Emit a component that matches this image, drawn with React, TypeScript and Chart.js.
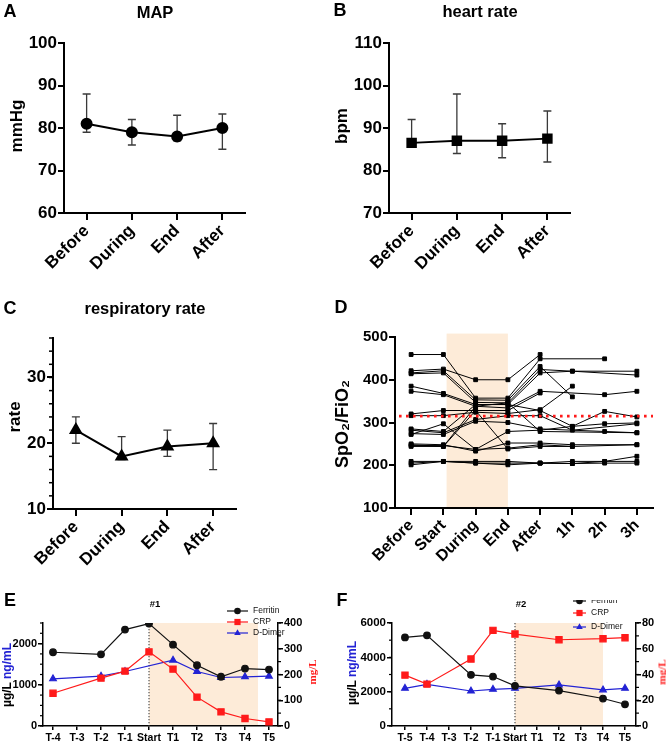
import React, { useEffect, useRef } from "react";
import { Chart, registerables } from "chart.js";
Chart.register(...registerables);

const FONT = "Arial, 'Liberation Sans', Helvetica, sans-serif";

// ---------- Data ----------
const phases = ["Before", "During", "End", "After"];
const mapMean = [81, 79, 78, 80];
const mapLow = [79, 76, 77, 75];
const mapHigh = [88, 82, 83, 83.3];
const hrMean = [86.5, 87, 87, 87.5];
const hrLow = [85.5, 84, 83, 82];
const hrHigh = [92, 98, 91, 94];
const rrMean = [22, 18, 19.5, 20];
const rrLow = [20, 17.5, 18, 16];
const rrHigh = [24, 21, 22, 23];

const spoLabels = ["Before", "Start", "During", "End", "After", "1h", "2h", "3h"];
const spoP01 = [459, 459, 357, 357, 449, null, 449, null];
const spoP02 = [421, 425, 400, 400, 459, null, null, null];
const spoP03 = [416, 421, 353, 352, 431, 360, null, null];
const spoP04 = [414, 416, 347, 346, 424, 420, null, 411];
const spoP05 = [385, 368, 342, 342, 416, 420, null, 420];
const spoP06 = [373, 365, 338, 334, 373, null, 365, 373];
const spoP07 = [320, 328, 328, 328, 369, null, null, null];
const spoP08 = [316, 316, 324, 321, 330, 385, null, null];
const spoP09 = [285, 279, 342, 342, 328, 291, 297, 299];
const spoP10 = [282, 276, 307, 316, 316, 282, null, 297];
const spoP11 = [274, 272, 303, 300, 285, null, 279, 276];
const spoP12 = [272, 297, 237, 279, 282, 291, 326, 313];
const spoP13 = [250, 248, 233, 252, 252, 248, null, 248];
const spoP14 = [246, 246, 237, 240, 248, 244, null, 248];
const spoP15 = [244, 244, 328, 238, 244, 244, null, null];
const spoP16 = [248, 244, 338, 346, 279, null, null, 276];
const spoP17 = [209, 209, 205, 205, 205, 209, 209, 209];
const spoP18 = [205, 209, 205, 201, 205, 204, 209, 221];
const spoP19 = [201, 209, 209, 209, 205, 204, 205, 205];
const spoPatients = [spoP01, spoP02, spoP03, spoP04, spoP05, spoP06, spoP07, spoP08, spoP09, spoP10,
  spoP11, spoP12, spoP13, spoP14, spoP15, spoP16, spoP17, spoP18, spoP19];
const spoThreshold = 315;
const spoShadeFrom = 1.1;
const spoShadeTo = 3;
const spoShadeTop = 508;

const eLabels = ["T-4", "T-3", "T-2", "T-1", "Start", "T1", "T2", "T3", "T4", "T5"];
const eFerritin = [1790, null, 1740, 2340, 2485, 1975, 1475, 1195, 1395, 1370];
const eCRP = [127, null, 186, 213, 288, 221, 112, 55, 29, 16];
const eDDimer = [1145, null, 1210, 1323, null, 1597, 1323, 1177, 1194, 1210];
const eLeftTicks = [0, 1000, 2000];
const eRightTicks = [0, 100, 200, 300, 400];
const eStart = 4;
const eShadeTo = 8.54;

const fLabels = ["T-5", "T-4", "T-3", "T-2", "T-1", "Start", "T1", "T2", "T3", "T4", "T5"];
const fFerritin = [5160, 5280, null, 2980, 2880, 2340, null, 2065, null, 1600, 1265];
const fCRP = [39.5, 32.5, null, 52, 74.3, 71.4, null, 67, null, 67.8, 68.6];
const fDDimer = [2195, 2430, null, 2040, 2135, 2195, null, 2390, null, 2100, 2195];
const fLeftTicks = [0, 2000, 4000, 6000];
const fRightTicks = [0, 20, 40, 60, 80];
const fStart = 5;
const fShadeTo = 9;

const SHADE = "#fdebd8";
const RED = "#ff1a1a";
const BLUE = "#2323d4";

// ---------- helpers ----------
function zeroPad(s: any) {
  s.paddingLeft = 0; s.paddingRight = 0; s.paddingTop = 0; s.paddingBottom = 0;
}

function drawMarker(ctx: CanvasRenderingContext2D, style: string, x: number, y: number, r: number) {
  ctx.beginPath();
  if (style === "circle") ctx.arc(x, y, r, 0, Math.PI * 2);
  else if (style === "rect") { const s = r * Math.SQRT1_2; ctx.rect(x - s, y - s, 2 * s, 2 * s); }
  else { ctx.moveTo(x, y - r); ctx.lineTo(x + r * 0.866, y + r * 0.5); ctx.lineTo(x - r * 0.866, y + r * 0.5); ctx.closePath(); }
  ctx.fill();
}

const errorBars = (low: number[], high: number[]) => ({
  id: "errorBars",
  beforeDatasetsDraw(chart: any) {
    const { ctx } = chart; const ys = chart.scales.y;
    const meta = chart.getDatasetMeta(0);
    ctx.save(); ctx.strokeStyle = "#3a3a3a"; ctx.lineWidth = 1.3;
    meta.data.forEach((pt: any, i: number) => {
      const x = pt.x, y1 = ys.getPixelForValue(low[i]), y2 = ys.getPixelForValue(high[i]);
      ctx.beginPath();
      ctx.moveTo(x, y1); ctx.lineTo(x, y2);
      ctx.moveTo(x - 4, y1); ctx.lineTo(x + 4, y1);
      ctx.moveTo(x - 4, y2); ctx.lineTo(x + 4, y2);
      ctx.stroke();
    });
    ctx.restore();
  },
});

const minorTicks = (specs: { id: string; step: number; len: number; width: number }[]) => ({
  id: "minorTicks",
  afterDraw(chart: any) {
    const { ctx } = chart;
    ctx.save(); ctx.strokeStyle = "#000";
    specs.forEach(({ id, step, len, width }) => {
      const s = chart.scales[id];
      ctx.lineWidth = width;
      const left = s.position === "left";
      const x0 = left ? s.right : s.left;
      for (let v = s.min; v <= s.max + 1e-9; v += step) {
        const y = s.getPixelForValue(v);
        ctx.beginPath(); ctx.moveTo(x0, y); ctx.lineTo(left ? x0 - len : x0 + len, y); ctx.stroke();
      }
    });
    ctx.restore();
  },
});

const shade = (from: number, to: number, topVal: number | null) => ({
  id: "shade",
  beforeDraw(chart: any) {
    const { ctx, chartArea } = chart; const xs = chart.scales.x; const ys = chart.scales.y;
    const x1 = xs.getPixelForValue(from), x2 = xs.getPixelForValue(to);
    const yTop = topVal == null ? chartArea.top : ys.getPixelForValue(topVal);
    ctx.save(); ctx.fillStyle = SHADE; ctx.fillRect(x1, yTop, x2 - x1, chartArea.bottom - yTop); ctx.restore();
  },
});

const hDotted = (value: number) => ({
  id: "hDotted",
  afterDatasetsDraw(chart: any) {
    const { ctx, chartArea } = chart; const y = chart.scales.y.getPixelForValue(value);
    ctx.save(); ctx.strokeStyle = RED; ctx.lineWidth = 2.6; ctx.setLineDash([2.6, 4.4]);
    ctx.beginPath(); ctx.moveTo(chartArea.left + 4, y); ctx.lineTo(chartArea.right, y); ctx.stroke();
    ctx.restore();
  },
});

const vDotted = (value: number) => ({
  id: "vDotted",
  beforeDatasetsDraw(chart: any) {
    const { ctx, chartArea } = chart; const x = chart.scales.x.getPixelForValue(value);
    ctx.save(); ctx.strokeStyle = "#444"; ctx.lineWidth = 1.1; ctx.setLineDash([1.3, 1.7]);
    ctx.beginPath(); ctx.moveTo(x, chartArea.top); ctx.lineTo(x, chartArea.bottom); ctx.stroke();
    ctx.restore();
  },
});

type LegItem = { label: string; color: string; style: string; r: number };
const legend = (items: LegItem[], x0: number, x1: number, xt: number, ys: number[], size: number) => ({
  id: "customLegend",
  afterDraw(chart: any) {
    const { ctx } = chart;
    ctx.save();
    items.forEach((it, i) => {
      const y = ys[i];
      ctx.strokeStyle = it.color; ctx.fillStyle = it.color; ctx.lineWidth = 1.2;
      ctx.beginPath(); ctx.moveTo(x0, y); ctx.lineTo(x1, y); ctx.stroke();
      drawMarker(ctx, it.style, (x0 + x1) / 2, y, it.r);
      ctx.fillStyle = "#111"; ctx.font = `${size}px ${FONT}`; ctx.textBaseline = "middle"; ctx.textAlign = "left";
      ctx.fillText(it.label, xt, y);
    });
    ctx.restore();
  },
});

const commonOpts = (pad: any) => ({
  responsive: false,
  animation: false,
  devicePixelRatio: 1,
  events: [],
  layout: { padding: pad },
  plugins: { legend: { display: false }, tooltip: { enabled: false }, title: { display: false } },
});

function catX(labels: string[], size: number, xH: number) {
  return {
    type: "category",
    labels,
    offset: true,
    grid: { drawOnChartArea: false, drawTicks: true, tickLength: 7, color: "#000", lineWidth: 2 },
    border: { display: true, color: "#000", width: 2 },
    ticks: { color: "#000", font: { family: FONT, size, weight: "bold" }, maxRotation: 45, minRotation: 45, autoSkip: false, padding: 1 },
    afterFit: (s: any) => { s.height = xH; zeroPad(s); },
  };
}

function linY(min: number, max: number, step: number, size: number, yW: number) {
  return {
    type: "linear",
    position: "left",
    min, max,
    grid: { drawOnChartArea: false, drawTicks: true, tickLength: 6, color: "#000", lineWidth: 2 },
    border: { display: true, color: "#000", width: 2 },
    ticks: { stepSize: step, autoSkip: false, includeBounds: false, color: "#000", font: { family: FONT, size, weight: "bold" }, padding: 1, callback: (v: number) => String(v) },
    afterFit: (s: any) => { s.width = yW; zeroPad(s); },
  };
}

function vitalsConfig(o: any) {
  return {
    type: "line",
    data: {
      labels: phases,
      datasets: [{
        data: o.mean, borderColor: "#000", backgroundColor: "#000", borderWidth: 2,
        pointStyle: o.style, pointRadius: o.radius, pointHoverRadius: o.radius, tension: 0,
      }],
    },
    options: {
      ...commonOpts({ top: o.padTop, right: o.padRight, left: 0, bottom: 0 }),
      scales: {
        x: catX(phases, 17, o.xH),
        y: linY(o.yMin, o.yMax, o.yStep, 17, o.yW),
      },
    },
    plugins: [errorBars(o.low, o.high), ...(o.minor ? [minorTicks([{ id: "y", step: o.minor, len: 4, width: 1.5 }])] : [])],
  };
}

function spoConfig() {
  return {
    type: "line",
    data: {
      labels: spoLabels,
      datasets: spoPatients.map((p) => ({
        data: p, borderColor: "#000", backgroundColor: "#000", borderWidth: 1,
        pointStyle: "rect", pointRadius: 2.7, pointHoverRadius: 2.7, spanGaps: true, tension: 0,
      })),
    },
    options: {
      ...commonOpts({ top: 37, right: 13, left: 0, bottom: 0 }),
      scales: {
        x: catX(spoLabels, 16, 92),
        y: linY(100, 500, 100, 15, 62),
      },
    },
    plugins: [shade(spoShadeFrom, spoShadeTo, spoShadeTop), hDotted(spoThreshold)],
  };
}

function labY(position: string, max: number, tickVals: number[], size: number, w: number) {
  return {
    type: "linear", position, min: 0, max,
    afterBuildTicks: (s: any) => { s.ticks = tickVals.map((v) => ({ value: v })); },
    grid: { drawOnChartArea: false, drawTicks: true, tickLength: 5, color: "#000", lineWidth: 1.5 },
    border: { display: true, color: "#000", width: 1.5 },
    ticks: { autoSkip: false, color: "#000", font: { family: FONT, size, weight: "bold" }, padding: 1, callback: (v: number) => String(v) },
    afterFit: (s: any) => { s.width = w; zeroPad(s); },
  };
}

function labConfig(o: any) {
  const pts = (arr: (number | null)[]) => arr.map((v, i) => ({ x: i, y: v })).filter((p) => p.y !== null);
  const legItems: LegItem[] = [
    { label: "Ferritin", color: "#111", style: "circle", r: 3.3 },
    { label: "CRP", color: RED, style: "rect", r: 4.4 },
    { label: "D-Dimer", color: BLUE, style: "triangle", r: 3.8 },
  ];
  return {
    type: "line",
    data: {
      datasets: [
        { data: pts(o.ferritin), yAxisID: "y", borderColor: "#111", backgroundColor: "#111", borderWidth: 1.2, pointStyle: "circle", pointRadius: 3.3, tension: 0 },
        { data: pts(o.crp), yAxisID: "y2", borderColor: RED, backgroundColor: RED, borderWidth: 1.2, pointStyle: "rect", pointRadius: 4.4, tension: 0 },
        { data: pts(o.ddimer), yAxisID: "y", borderColor: BLUE, backgroundColor: BLUE, borderWidth: 1.2, pointStyle: "triangle", pointRadius: 3.8, tension: 0 },
      ],
    },
    options: {
      ...commonOpts({ top: 23, right: 0, left: 0, bottom: 0 }),
      scales: {
        x: {
          type: "linear", min: o.xMin, max: o.xMax,
          afterBuildTicks: (s: any) => { s.ticks = o.labels.map((_: string, i: number) => ({ value: i })); },
          grid: { drawOnChartArea: false, drawTicks: true, tickLength: 4, color: "#000", lineWidth: 1.5 },
          border: { display: true, color: "#000", width: 1.5 },
          ticks: { callback: (v: number) => o.labels[v], autoSkip: false, maxRotation: 0, minRotation: 0, color: "#000", font: { family: FONT, size: 10.5, weight: "bold" }, padding: 2 },
          afterFit: (s: any) => { s.height = 15; zeroPad(s); },
        },
        y: labY("left", o.yMax, o.yTicks, o.yFont, o.yW),
        y2: labY("right", o.y2Max, o.y2Ticks, 11, o.y2W),
      },
    },
    plugins: [
      shade(o.start, o.shadeTo, null),
      vDotted(o.start),
      minorTicks([{ id: "y", step: o.yMinor, len: 3, width: 1.2 }, { id: "y2", step: o.y2Minor, len: 3, width: 1.2 }]),
      legend(legItems, o.legX0, o.legX1, o.legXT, o.legYs, 8.5),
    ],
  };
}

// ---------- components ----------
function Panel({ left, top, width, height, make }: any) {
  const ref = useRef<HTMLCanvasElement>(null);
  useEffect(() => {
    const c = new Chart(ref.current as HTMLCanvasElement, make());
    return () => c.destroy();
  }, []);
  return <canvas ref={ref} width={width} height={height} style={{ position: "absolute", left, top, width, height }} />;
}

function Txt({ x, y, size, rot = 0, color = "#000", weight = 700, family = FONT, children }: any) {
  return (
    <div style={{
      position: "absolute", left: x, top: y, transform: `translate(-50%, -50%) rotate(${rot}deg)`,
      fontSize: size, fontWeight: weight, color, fontFamily: family, whiteSpace: "nowrap", lineHeight: 1,
    }}>{children}</div>
  );
}

export default function App() {
  return (
    <div style={{ position: "fixed", left: 0, top: 0, width: 666, height: 741, background: "#fff", overflow: "hidden" }}>
      <Panel left={0} top={0} width={333} height={300} make={() => vitalsConfig({
        mean: mapMean, low: mapLow, high: mapHigh, style: "circle", radius: 5,
        yMin: 60, yMax: 100, yStep: 10, yW: 64, xH: 87, padTop: 43, padRight: 88,
      })} />
      <Panel left={333} top={0} width={333} height={300} make={() => vitalsConfig({
        mean: hrMean, low: hrLow, high: hrHigh, style: "rect", radius: 6,
        yMin: 70, yMax: 110, yStep: 10, yW: 56, xH: 87, padTop: 43, padRight: 96,
      })} />
      <Panel left={0} top={300} width={333} height={300} make={() => vitalsConfig({
        mean: rrMean, low: rrLow, high: rrHigh, style: "triangle", radius: 6,
        yMin: 10, yMax: 36, yStep: 10, minor: 2, yW: 53, xH: 91, padTop: 38, padRight: 97,
      })} />
      <Panel left={333} top={300} width={333} height={300} make={spoConfig} />
      <Panel left={0} top={600} width={333} height={141} make={() => labConfig({
        labels: eLabels, ferritin: eFerritin, crp: eCRP, ddimer: eDDimer,
        xMin: -0.417, xMax: 9.375, yMax: 2500, yTicks: eLeftTicks, yMinor: 250, y2Max: 400, y2Ticks: eRightTicks, y2Minor: 50,
        yW: 43, y2W: 55, yFont: 11, start: eStart, shadeTo: eShadeTo,
        legX0: 227, legX1: 248, legXT: 253, legYs: [11, 22, 33],
      })} />
      <Panel left={333} top={600} width={333} height={141} make={() => labConfig({
        labels: fLabels, ferritin: fFerritin, crp: fCRP, ddimer: fDDimer,
        xMin: -0.59, xMax: 10.5, yMax: 6000, yTicks: fLeftTicks, yMinor: 1000, y2Max: 80, y2Ticks: fRightTicks, y2Minor: 10,
        yW: 59, y2W: 30, yFont: 11.5, start: fStart, shadeTo: fShadeTo,
        legX0: 240, legX1: 253, legXT: 258, legYs: [1, 13, 27],
      })} />

      {/* panel letters */}
      <Txt x={10} y={11} size={18}>A</Txt>
      <Txt x={340} y={10} size={18}>B</Txt>
      <Txt x={10} y={308} size={18}>C</Txt>
      <Txt x={341} y={307} size={18}>D</Txt>
      <Txt x={10} y={600} size={18}>E</Txt>
      <Txt x={342} y={600} size={18}>F</Txt>

      {/* titles */}
      <Txt x={155} y={12} size={16.5}>MAP</Txt>
      <Txt x={480} y={11} size={16.5}>heart rate</Txt>
      <Txt x={145} y={308} size={16.5}>respiratory rate</Txt>
      <Txt x={155} y={604} size={9.5}>#1</Txt>
      <Txt x={521} y={604} size={9.5}>#2</Txt>

      {/* axis titles */}
      <Txt x={16} y={126} size={17} rot={-90}>mmHg</Txt>
      <Txt x={341} y={126} size={17} rot={-90}>bpm</Txt>
      <Txt x={14} y={417} size={17} rot={-90}>rate</Txt>
      <Txt x={342} y={424} size={18} rot={-90}>SpO₂/FiO₂</Txt>
      <Txt x={7} y={675} size={12} rot={-90}><span>µg/L </span><span style={{ color: BLUE }}>ng/mL</span></Txt>
      <Txt x={312} y={672} size={11} rot={-90} color={RED} family="'Liberation Serif', 'Times New Roman', serif">mg/L</Txt>
      <Txt x={352} y={673} size={12} rot={-90}><span>µg/L </span><span style={{ color: BLUE }}>ng/mL</span></Txt>
      <Txt x={662} y={672} size={11} rot={-90} color={RED} family="'Liberation Serif', 'Times New Roman', serif">mg/L</Txt>
    </div>
  );
}
